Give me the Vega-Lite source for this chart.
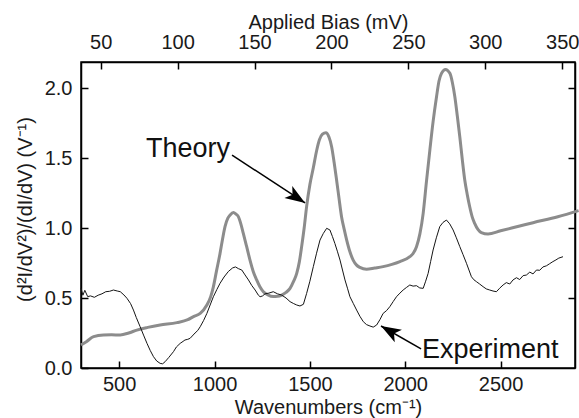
{
  "$schema": "https://vega.github.io/schema/vega-lite/v6.json",
  "width": 494,
  "height": 306,
  "autosize": {"type": "none"},
  "padding": {"left": 81, "top": 62, "right": 4, "bottom": 50},
  "background": "white",
  "config": {
    "view": {"stroke": "black", "strokeWidth": 1.5},
    "font": "Liberation Sans",
    "axis": {
      "grid": false,
      "domainColor": "black",
      "domainWidth": 1.5,
      "tickSize": -7,
      "tickWidth": 1.5,
      "tickColor": "black",
      "labelFontSize": 20,
      "labelColor": "#1a1a1a",
      "titleFontSize": 20,
      "titleFontWeight": "normal",
      "titleColor": "#1a1a1a",
      "labelFont": "Liberation Sans",
      "titleFont": "Liberation Sans"
    }
  },
  "datasets": {
    "theory": [
      {"wn": 300, "v": 0.164}, {"wn": 330, "v": 0.19}, {"wn": 366, "v": 0.224}, {"wn": 418, "v": 0.236},
      {"wn": 460, "v": 0.237}, {"wn": 506, "v": 0.236}, {"wn": 550, "v": 0.25}, {"wn": 593, "v": 0.271},
      {"wn": 650, "v": 0.29}, {"wn": 715, "v": 0.307}, {"wn": 803, "v": 0.324}, {"wn": 860, "v": 0.345},
      {"wn": 890, "v": 0.367}, {"wn": 925, "v": 0.39}, {"wn": 960, "v": 0.45}, {"wn": 980, "v": 0.51},
      {"wn": 994, "v": 0.58}, {"wn": 1010, "v": 0.69}, {"wn": 1029, "v": 0.819}, {"wn": 1042, "v": 0.92},
      {"wn": 1055, "v": 1.01}, {"wn": 1070, "v": 1.07}, {"wn": 1082, "v": 1.093}, {"wn": 1099, "v": 1.11},
      {"wn": 1112, "v": 1.1}, {"wn": 1125, "v": 1.081}, {"wn": 1138, "v": 1.03}, {"wn": 1151, "v": 0.962},
      {"wn": 1168, "v": 0.87}, {"wn": 1186, "v": 0.771}, {"wn": 1203, "v": 0.69}, {"wn": 1221, "v": 0.629},
      {"wn": 1238, "v": 0.58}, {"wn": 1256, "v": 0.545}, {"wn": 1280, "v": 0.522}, {"wn": 1308, "v": 0.51},
      {"wn": 1330, "v": 0.512}, {"wn": 1352, "v": 0.521}, {"wn": 1375, "v": 0.54}, {"wn": 1396, "v": 0.569},
      {"wn": 1415, "v": 0.62}, {"wn": 1431, "v": 0.676}, {"wn": 1445, "v": 0.76}, {"wn": 1457, "v": 0.869},
      {"wn": 1470, "v": 1.0}, {"wn": 1483, "v": 1.155}, {"wn": 1500, "v": 1.31}, {"wn": 1518, "v": 1.43},
      {"wn": 1535, "v": 1.55}, {"wn": 1550, "v": 1.63}, {"wn": 1566, "v": 1.67}, {"wn": 1584, "v": 1.681},
      {"wn": 1600, "v": 1.65}, {"wn": 1614, "v": 1.581}, {"wn": 1627, "v": 1.47}, {"wn": 1640, "v": 1.343},
      {"wn": 1653, "v": 1.21}, {"wn": 1666, "v": 1.081}, {"wn": 1680, "v": 0.99}, {"wn": 1693, "v": 0.914},
      {"wn": 1710, "v": 0.83}, {"wn": 1727, "v": 0.771}, {"wn": 1745, "v": 0.735}, {"wn": 1762, "v": 0.719},
      {"wn": 1797, "v": 0.705}, {"wn": 1840, "v": 0.714}, {"wn": 1884, "v": 0.724}, {"wn": 1930, "v": 0.74},
      {"wn": 1972, "v": 0.76}, {"wn": 2024, "v": 0.795}, {"wn": 2042, "v": 0.82}, {"wn": 2059, "v": 0.867},
      {"wn": 2077, "v": 0.96}, {"wn": 2094, "v": 1.105}, {"wn": 2111, "v": 1.33}, {"wn": 2129, "v": 1.557},
      {"wn": 2146, "v": 1.76}, {"wn": 2164, "v": 1.938}, {"wn": 2177, "v": 2.05}, {"wn": 2190, "v": 2.105},
      {"wn": 2211, "v": 2.133}, {"wn": 2234, "v": 2.105}, {"wn": 2247, "v": 2.04}, {"wn": 2260, "v": 1.938},
      {"wn": 2273, "v": 1.8}, {"wn": 2286, "v": 1.652}, {"wn": 2299, "v": 1.49}, {"wn": 2312, "v": 1.343},
      {"wn": 2325, "v": 1.24}, {"wn": 2338, "v": 1.152}, {"wn": 2351, "v": 1.08}, {"wn": 2364, "v": 1.033},
      {"wn": 2381, "v": 0.99}, {"wn": 2399, "v": 0.967}, {"wn": 2434, "v": 0.957}, {"wn": 2500, "v": 0.98},
      {"wn": 2600, "v": 1.014}, {"wn": 2670, "v": 1.038}, {"wn": 2800, "v": 1.08}, {"wn": 2909, "v": 1.124}
    ],
    "experiment": [
      {"wn": 300, "v": 0.57}, {"wn": 310, "v": 0.52}, {"wn": 320, "v": 0.555}, {"wn": 335, "v": 0.51},
      {"wn": 350, "v": 0.515}, {"wn": 370, "v": 0.505}, {"wn": 390, "v": 0.52}, {"wn": 410, "v": 0.53},
      {"wn": 430, "v": 0.545}, {"wn": 450, "v": 0.548}, {"wn": 470, "v": 0.557}, {"wn": 490, "v": 0.55},
      {"wn": 506, "v": 0.545}, {"wn": 525, "v": 0.522}, {"wn": 541, "v": 0.498}, {"wn": 560, "v": 0.46},
      {"wn": 575, "v": 0.414}, {"wn": 590, "v": 0.36}, {"wn": 610, "v": 0.295}, {"wn": 628, "v": 0.235},
      {"wn": 646, "v": 0.176}, {"wn": 663, "v": 0.125}, {"wn": 680, "v": 0.081}, {"wn": 697, "v": 0.05},
      {"wn": 715, "v": 0.033}, {"wn": 728, "v": 0.03}, {"wn": 741, "v": 0.045}, {"wn": 760, "v": 0.075},
      {"wn": 785, "v": 0.117}, {"wn": 800, "v": 0.15}, {"wn": 820, "v": 0.176}, {"wn": 835, "v": 0.19},
      {"wn": 845, "v": 0.2}, {"wn": 860, "v": 0.205}, {"wn": 872, "v": 0.212}, {"wn": 898, "v": 0.25},
      {"wn": 912, "v": 0.268}, {"wn": 925, "v": 0.295}, {"wn": 943, "v": 0.34}, {"wn": 960, "v": 0.39},
      {"wn": 977, "v": 0.45}, {"wn": 994, "v": 0.509}, {"wn": 1012, "v": 0.56}, {"wn": 1029, "v": 0.605},
      {"wn": 1050, "v": 0.65}, {"wn": 1073, "v": 0.69}, {"wn": 1095, "v": 0.715}, {"wn": 1110, "v": 0.722},
      {"wn": 1125, "v": 0.71}, {"wn": 1143, "v": 0.7}, {"wn": 1160, "v": 0.665}, {"wn": 1178, "v": 0.629},
      {"wn": 1195, "v": 0.59}, {"wn": 1213, "v": 0.557}, {"wn": 1230, "v": 0.52}, {"wn": 1239, "v": 0.509},
      {"wn": 1252, "v": 0.515}, {"wn": 1265, "v": 0.53}, {"wn": 1285, "v": 0.535}, {"wn": 1308, "v": 0.545},
      {"wn": 1330, "v": 0.53}, {"wn": 1352, "v": 0.521}, {"wn": 1375, "v": 0.5}, {"wn": 1396, "v": 0.474},
      {"wn": 1415, "v": 0.46}, {"wn": 1431, "v": 0.45}, {"wn": 1448, "v": 0.443}, {"wn": 1466, "v": 0.455},
      {"wn": 1483, "v": 0.533}, {"wn": 1500, "v": 0.62}, {"wn": 1518, "v": 0.724}, {"wn": 1535, "v": 0.82},
      {"wn": 1553, "v": 0.914}, {"wn": 1570, "v": 0.96}, {"wn": 1588, "v": 0.998}, {"wn": 1605, "v": 0.986},
      {"wn": 1618, "v": 0.94}, {"wn": 1631, "v": 0.89}, {"wn": 1645, "v": 0.83}, {"wn": 1658, "v": 0.771},
      {"wn": 1671, "v": 0.7}, {"wn": 1684, "v": 0.629}, {"wn": 1697, "v": 0.57}, {"wn": 1710, "v": 0.509},
      {"wn": 1728, "v": 0.46}, {"wn": 1745, "v": 0.414}, {"wn": 1762, "v": 0.37}, {"wn": 1780, "v": 0.331},
      {"wn": 1797, "v": 0.31}, {"wn": 1815, "v": 0.3}, {"wn": 1832, "v": 0.292}, {"wn": 1850, "v": 0.307},
      {"wn": 1867, "v": 0.345}, {"wn": 1884, "v": 0.39}, {"wn": 1902, "v": 0.41}, {"wn": 1919, "v": 0.438},
      {"wn": 1937, "v": 0.475}, {"wn": 1954, "v": 0.509}, {"wn": 1972, "v": 0.535}, {"wn": 1989, "v": 0.557},
      {"wn": 2006, "v": 0.575}, {"wn": 2024, "v": 0.593}, {"wn": 2041, "v": 0.585}, {"wn": 2059, "v": 0.588},
      {"wn": 2076, "v": 0.572}, {"wn": 2094, "v": 0.569}, {"wn": 2107, "v": 0.62}, {"wn": 2120, "v": 0.676},
      {"wn": 2133, "v": 0.76}, {"wn": 2146, "v": 0.843}, {"wn": 2163, "v": 0.93}, {"wn": 2181, "v": 1.01},
      {"wn": 2198, "v": 1.04}, {"wn": 2216, "v": 1.057}, {"wn": 2233, "v": 1.03}, {"wn": 2251, "v": 0.986},
      {"wn": 2268, "v": 0.93}, {"wn": 2286, "v": 0.867}, {"wn": 2303, "v": 0.81}, {"wn": 2321, "v": 0.748},
      {"wn": 2334, "v": 0.7}, {"wn": 2347, "v": 0.652}, {"wn": 2360, "v": 0.63}, {"wn": 2373, "v": 0.617},
      {"wn": 2390, "v": 0.6}, {"wn": 2408, "v": 0.581}, {"wn": 2425, "v": 0.565}, {"wn": 2443, "v": 0.557},
      {"wn": 2460, "v": 0.55}, {"wn": 2478, "v": 0.545}, {"wn": 2495, "v": 0.57}, {"wn": 2513, "v": 0.593},
      {"wn": 2530, "v": 0.61}, {"wn": 2548, "v": 0.6}, {"wn": 2565, "v": 0.629}, {"wn": 2583, "v": 0.645},
      {"wn": 2600, "v": 0.632}, {"wn": 2618, "v": 0.66}, {"wn": 2635, "v": 0.664}, {"wn": 2653, "v": 0.685},
      {"wn": 2670, "v": 0.672}, {"wn": 2688, "v": 0.7}, {"wn": 2705, "v": 0.698}, {"wn": 2722, "v": 0.722},
      {"wn": 2740, "v": 0.73}, {"wn": 2757, "v": 0.745}, {"wn": 2774, "v": 0.76}, {"wn": 2790, "v": 0.772},
      {"wn": 2805, "v": 0.785}, {"wn": 2827, "v": 0.795}
    ],
    "notes": [
      {"label": "Theory", "tx": 641, "ty": 1.507, "x1": 1092, "y1": 1.521, "x2": 1475, "y2": 1.179},
      {"label": "Experiment", "tx": 2088, "ty": 0.071, "x1": 2083, "y1": 0.136, "x2": 1873, "y2": 0.3}
    ],
    "bias": [{"mV": 100, "v": 1}]
  },
  "layer": [
    {
      "layer": [
        {
          "data": {"name": "theory"},
          "mark": {"type": "line", "color": "#8c8c8c", "strokeWidth": 3, "interpolate": "monotone"},
          "encoding": {
            "x": {
              "field": "wn", "type": "quantitative",
              "scale": {"domain": [300, 2890], "nice": false, "zero": false},
              "axis": {
                "orient": "bottom", "values": [500, 1000, 1500, 2000, 2500], "format": "d",
                "labelPadding": 13, "title": "Wavenumbers (cm⁻¹)",
                "titleY": 45, "titleBaseline": "alphabetic"
              }
            },
            "y": {
              "field": "v", "type": "quantitative",
              "scale": {"domain": [0, 2.186], "nice": false},
              "axis": {
                "orient": "left", "values": [0, 0.5, 1, 1.5, 2], "format": ".1f",
                "labelPadding": 16, "title": "(d²I/dV²)/(dI/dV) (V⁻¹)",
                "titleX": -50, "titleY": 147, "titleBaseline": "alphabetic"
              }
            }
          }
        },
        {
          "data": {"name": "experiment"},
          "mark": {"type": "line", "color": "#151515", "strokeWidth": 1},
          "encoding": {
            "x": {"field": "wn", "type": "quantitative"},
            "y": {"field": "v", "type": "quantitative"}
          }
        }
      ]
    },
    {
      "data": {"name": "bias"},
      "mark": {"type": "point", "opacity": 0},
      "encoding": {
        "x": {
          "field": "mV", "type": "quantitative",
          "scale": {"domain": [37.196, 358.32], "nice": false, "zero": false},
          "axis": {
            "orient": "top", "values": [50, 100, 150, 200, 250, 300, 350], "format": "d",
            "labelPadding": 17, "title": "Applied Bias (mV)",
            "titleY": -34, "titleBaseline": "alphabetic"
          }
        },
        "y": {
          "field": "v", "type": "quantitative",
          "scale": {"domain": [0, 2.186], "nice": false},
          "axis": {"orient": "right", "values": [0.5, 1, 1.5, 2], "labels": false, "title": null}
        }
      }
    },
    {
      "data": {"name": "notes"},
      "layer": [
        {
          "mark": {"type": "rule", "color": "black", "strokeWidth": 1.5},
          "encoding": {
            "x": {"field": "x1", "type": "quantitative", "axis": null, "scale": {"domain": [300, 2890], "nice": false, "zero": false}},
            "y": {"field": "y1", "type": "quantitative", "axis": null, "scale": {"domain": [0, 2.186], "nice": false}},
            "x2": {"field": "x2"},
            "y2": {"field": "y2"}
          }
        },
        {
          "mark": {"type": "text", "fontSize": 27, "align": "left", "baseline": "alphabetic", "color": "#111", "font": "Liberation Sans"},
          "encoding": {
            "x": {"field": "tx", "type": "quantitative", "axis": null},
            "y": {"field": "ty", "type": "quantitative", "axis": null},
            "text": {"field": "label"}
          }
        },
        {
          "transform": [{"filter": "datum.label === 'Theory'"}],
          "mark": {"type": "point", "shape": "M0,0L-1,-0.36L-0.75,0L-1,0.36Z", "filled": true, "color": "black", "opacity": 1, "size": 1600, "angle": 33},
          "encoding": {
            "x": {"field": "x2", "type": "quantitative", "axis": null},
            "y": {"field": "y2", "type": "quantitative", "axis": null}
          }
        },
        {
          "transform": [{"filter": "datum.label === 'Experiment'"}],
          "mark": {"type": "point", "shape": "M0,0L-1,-0.36L-0.75,0L-1,0.36Z", "filled": true, "color": "black", "opacity": 1, "size": 1600, "angle": 210},
          "encoding": {
            "x": {"field": "x2", "type": "quantitative", "axis": null},
            "y": {"field": "y2", "type": "quantitative", "axis": null}
          }
        }
      ]
    }
  ],
  "resolve": {"scale": {"x": "independent", "y": "independent"}}
}
